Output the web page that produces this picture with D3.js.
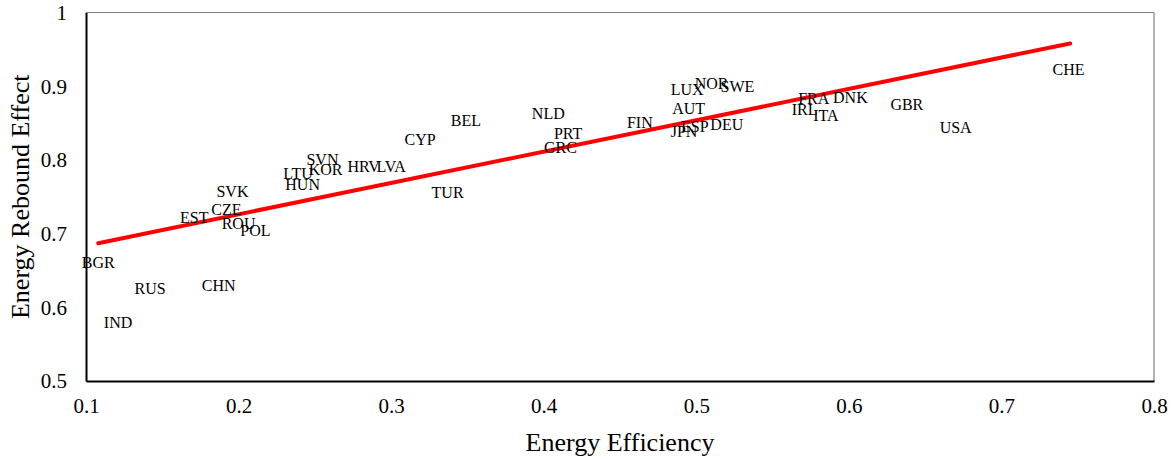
<!DOCTYPE html>
<html>
<head>
<meta charset="utf-8">
<script src="https://cdn.jsdelivr.net/npm/d3@7"></script>
<style>
  html, body { margin: 0; padding: 0; background: #fff; }
  svg { display: block; }
  svg text { font-family: "Times New Roman", Times, "Liberation Serif", "DejaVu Serif", serif !important; fill: #000; }
</style>
</head>
<body>
<svg id="chart" width="1171" height="459"></svg>
<script>
// Country codes (data labels)
const countries = ["BEL","CYP","SVN","KOR","LTU","HUN","HRV","LVA","SVK","CZE","EST","ROU","POL","BGR","RUS","CHN","IND","TUR",
                   "NLD","PRT","GRC","FIN","LUX","NOR","SWE","AUT","ESP","JPN","DEU","FRA","DNK","IRL","ITA","CHE","GBR","USA"];
// Energy efficiency (x)
const efficiency = [0.349,0.319,0.255,0.257,0.239,0.242,0.282,0.300,0.196,0.192,0.171,0.200,0.211,0.108,0.142,0.187,0.121,0.337,
                    0.403,0.416,0.411,0.463,0.494,0.510,0.527,0.495,0.499,0.492,0.520,0.577,0.601,0.571,0.585,0.744,0.638,0.670];
// Energy rebound effect (y)
const rebound = [0.853,0.828,0.800,0.786,0.781,0.766,0.791,0.791,0.757,0.733,0.721,0.714,0.704,0.660,0.625,0.629,0.579,0.756,
                 0.863,0.835,0.817,0.851,0.895,0.903,0.899,0.869,0.845,0.838,0.848,0.883,0.884,0.868,0.860,0.923,0.875,0.843];
// Linear trend line endpoints
const trendX = [0.108, 0.745];
const trendY = [0.687, 0.958];
// Axis ticks
const xTicks = [0.1,0.2,0.3,0.4,0.5,0.6,0.7,0.8];
const yTicks = [0.5,0.6,0.7,0.8,0.9,1];
const xTitle = "Energy Efficiency";
const yTitle = "Energy Rebound Effect";

const FONT = "'Times New Roman', Times, 'Liberation Serif', 'DejaVu Serif', serif";

const svg = d3.select("#chart");
const margin = {left: 86, top: 12.5, right: 1171 - 1154, bottom: 459 - 381};
const W = 1171 - margin.left - margin.right;
const H = 459 - margin.top - margin.bottom;

const x = d3.scaleLinear().domain([0.1, 0.8]).range([0, W]);
const y = d3.scaleLinear().domain([0.5, 1]).range([H, 0]);

const g = svg.append("g").attr("transform", `translate(${margin.left},${margin.top})`);

// frame: top and right thin grey
g.append("line").attr("x1", 0).attr("x2", W).attr("y1", 0).attr("y2", 0)
  .attr("stroke", "#7f7f7f").attr("stroke-width", 1.2);
g.append("line").attr("x1", W).attr("x2", W).attr("y1", 0).attr("y2", H)
  .attr("stroke", "#7f7f7f").attr("stroke-width", 1.2);

// trend line
const pts = trendX.map((d, i) => [x(d), y(trendY[i])]);
g.append("path").attr("d", d3.line()(pts))
  .attr("fill", "none").attr("stroke", "#ff0000").attr("stroke-width", 4).attr("stroke-linecap", "round");

// data labels
g.append("g").selectAll("text").data(countries).join("text")
  .attr("x", (d, i) => x(efficiency[i]))
  .attr("y", (d, i) => y(rebound[i]))
  .attr("dy", "0.33em")
  .attr("text-anchor", "middle")
  .attr("font-family", FONT)
  .style("font-size", "16px")
  .text(d => d);

// axes
const xAxis = g.append("g").attr("transform", `translate(0,${H})`)
  .call(d3.axisBottom(x).tickValues(xTicks).tickSize(0).tickFormat(d3.format("")));
xAxis.attr("font-family", FONT);
xAxis.select(".domain").attr("stroke", "#000").attr("stroke-width", 2);
xAxis.selectAll("text").attr("y", 25).attr("dy", "0.33em")
  .style("font-size", "21px");

const yAxis = g.append("g")
  .call(d3.axisLeft(y).tickValues(yTicks).tickSize(0).tickFormat(d3.format("")));
yAxis.attr("font-family", FONT);
yAxis.select(".domain").attr("stroke", "#000").attr("stroke-width", 2);
yAxis.selectAll("text").attr("x", -19).attr("dy", "0.33em")
  .style("font-size", "21px");

// titles
svg.append("text")
  .attr("x", margin.left + W / 2).attr("y", 451)
  .attr("text-anchor", "middle").attr("font-family", FONT).style("font-size", "26px")
  .text(xTitle);
svg.append("text")
  .attr("transform", `translate(29,${margin.top + H / 2}) rotate(-90)`)
  .attr("text-anchor", "middle").attr("font-family", FONT).style("font-size", "26px")
  .text(yTitle);
</script>
</body>
</html>
